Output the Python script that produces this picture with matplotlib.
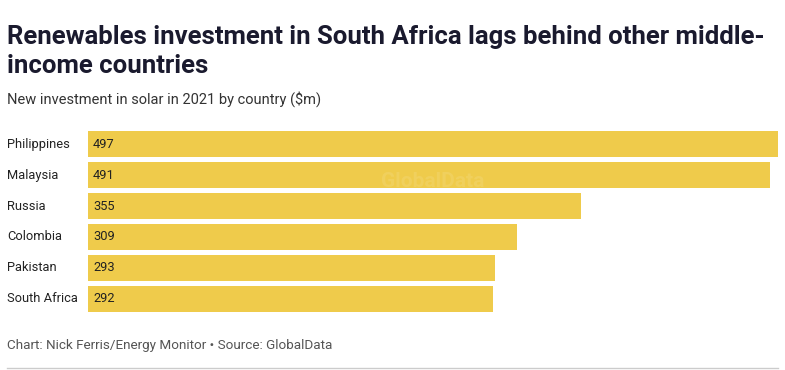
import matplotlib
matplotlib.use("Agg")
import matplotlib.pyplot as plt

countries = ["Philippines", "Malaysia", "Russia", "Colombia", "Pakistan", "South Africa"]
investment = [497, 491, 355, 309, 293, 292]

TITLE = "Renewables investment in South Africa lags behind other middle-\nincome countries"
SUBTITLE = "New investment in solar in 2021 by country ($m)"
FOOTER = "Chart: Nick Ferris/Energy Monitor \u2022 Source: GlobalData"

BAR = "#EFCB4B"
INK = "#222222"

plt.rcParams["font.family"] = ["Roboto", "DejaVu Sans"]

W, H = 785, 370
fig = plt.figure(figsize=(W / 100, H / 100), dpi=100)

ax = fig.add_axes([88 / W, 1 - 312 / H, 690 / W, 181 / H])
ypos = list(range(len(countries)))
ax.barh(ypos, investment, height=0.84, color=BAR)
ax.set_xlim(0, max(investment))
ax.set_ylim(len(countries) - 0.58, -0.42)
ax.axis("off")

for y, name, v in zip(ypos, countries, investment):
    ax.text(5 / 690 * max(investment), y, str(v), ha="left", va="center",
            fontsize=9.3, color=INK)
    # country labels sit in the left margin, outside the axes
    fig.text(7 / W, ax.transData.transform((0, y))[1] / H, name,
             ha="left", va="center", fontsize=9.3, color=INK)

# faint watermark
ax.text(0.5, 0.72, "GlobalData", transform=ax.transAxes, ha="center", va="center",
        fontsize=15, fontweight="bold", color="white", alpha=0.1)

fig.text(7 / W, 1 - 25 / H, TITLE, ha="left", va="top", fontsize=18.5,
         fontweight="bold", color="#1a1a2e", linespacing=1.25)
fig.text(7 / W, 1 - 99 / H, SUBTITLE, ha="left", va="center", fontsize=10.5,
         color="#333333")
fig.text(7 / W, 1 - 345 / H, FOOTER, ha="left", va="center", fontsize=9.7,
         color="#555555")
fig.add_artist(plt.Line2D([7 / W, 778 / W], [1 - 368 / H] * 2, color="#cccccc",
                          linewidth=1))

fig.savefig("out.png", dpi=100)
